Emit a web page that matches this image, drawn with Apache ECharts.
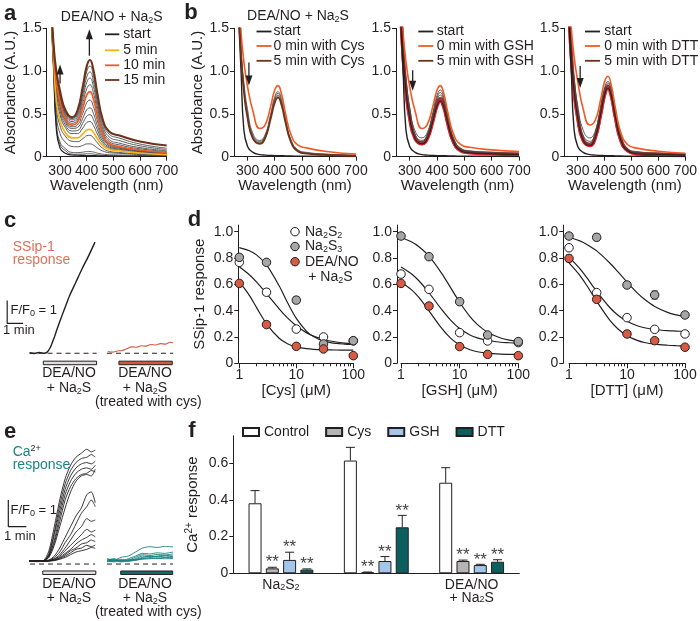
<!DOCTYPE html>
<html><head><meta charset="utf-8">
<script src="https://cdn.jsdelivr.net/npm/echarts@6.0.0/dist/echarts.min.js"></script>
<style>html,body{margin:0;padding:0;background:#fff;}#chart{width:700px;height:621px;}</style>
</head><body><div id="chart"></div>
<script>
const FONT = 'Liberation Sans';
const INK = '#231f20';
const YEL = '#f2b31b', ORG = '#f15a24', BRN = '#6e3219', RED = '#e3232b';
const GRAY_A = '#4a4a4a', GRAY_B = '#5e5e5e';

// ---------- panels a & b : absorbance spectra ----------
const wavelengths = [268,276,286,300,320,345,365,385,400,412,425,440,460,485,520,600,700];
const wlTicks = [300,400,500,600,700];
const specA = [
 [1.55,1.00,0.33,0.10,0.04,0.02,0.017,0.015,0.014,0.013,0.012,0.011,0.010,0.008,0.006,0.004,0.003],
 [1.56,1.02,0.37,0.14,0.07,0.03,0.029,0.031,0.035,0.035,0.031,0.024,0.016,0.012,0.010,0.007,0.005],
 [1.57,1.03,0.40,0.17,0.095,0.05,0.048,0.053,0.060,0.060,0.055,0.042,0.030,0.023,0.020,0.014,0.010],
 [1.60,1.08,0.50,0.27,0.17,0.12,0.116,0.131,0.149,0.150,0.135,0.102,0.067,0.047,0.040,0.025,0.015],
 [1.62,1.12,0.59,0.36,0.24,0.18,0.176,0.209,0.245,0.250,0.222,0.162,0.098,0.062,0.050,0.032,0.020],
 [1.64,1.14,0.65,0.42,0.28,0.22,0.219,0.265,0.312,0.320,0.285,0.210,0.129,0.085,0.070,0.043,0.025],
 [1.66,1.18,0.72,0.49,0.34,0.27,0.270,0.334,0.399,0.410,0.365,0.266,0.158,0.100,0.080,0.050,0.030],
 [1.67,1.20,0.765,0.535,0.37,0.30,0.305,0.390,0.473,0.490,0.435,0.314,0.182,0.113,0.090,0.057,0.035],
 [1.68,1.21,0.81,0.58,0.40,0.33,0.341,0.446,0.548,0.570,0.507,0.363,0.208,0.127,0.100,0.064,0.040],
 [1.69,1.23,0.84,0.61,0.425,0.35,0.370,0.504,0.630,0.660,0.587,0.418,0.235,0.140,0.110,0.071,0.045],
 [1.70,1.24,0.87,0.64,0.447,0.37,0.401,0.567,0.720,0.760,0.675,0.477,0.263,0.154,0.120,0.078,0.050],
 [1.71,1.25,0.90,0.666,0.469,0.39,0.430,0.620,0.793,0.840,0.748,0.530,0.295,0.177,0.140,0.092,0.060],
 [1.71,1.27,0.92,0.695,0.491,0.41,0.459,0.673,0.866,0.920,0.821,0.583,0.327,0.199,0.160,0.106,0.070],
 [1.72,1.28,0.95,0.72,0.513,0.43,0.488,0.721,0.930,0.990,0.887,0.635,0.365,0.230,0.190,0.127,0.085],
 [1.73,1.29,0.975,0.745,0.53,0.445,0.513,0.768,0.993,1.060,0.952,0.687,0.401,0.261,0.220,0.148,0.100],
 [1.73,1.30,1.00,0.767,0.546,0.46,0.537,0.814,1.055,1.130,1.017,0.738,0.438,0.292,0.250,0.178,0.130]
];
const bStart = [1.55,1.00,0.33,0.12,0.05,0.025,0.018,0.015,0.013,0.012,0.011,0.010,0.008,0.007,0.006,0.004,0.003];
const bCysOrange = [1.90,1.45,1.12,0.82,0.53,0.33,0.372,0.585,0.775,0.83,0.735,0.506,0.259,0.137,0.10,0.058,0.03];
const bCysMid = [
 [1.70,1.25,0.88,0.55,0.27,0.19,0.260,0.494,0.696,0.76,0.671,0.444,0.201,0.083,0.050,0.029,0.015],
 [1.69,1.23,0.85,0.52,0.25,0.18,0.249,0.479,0.677,0.74,0.652,0.430,0.192,0.078,0.045,0.026,0.013],
 [1.68,1.21,0.82,0.49,0.23,0.17,0.238,0.463,0.658,0.72,0.635,0.416,0.184,0.071,0.040,0.023,0.012],
 [1.67,1.20,0.80,0.47,0.22,0.16,0.229,0.454,0.647,0.71,0.625,0.411,0.181,0.071,0.040,0.023,0.011]
];
const bCysBrown = [1.66,1.18,0.78,0.45,0.21,0.15,0.218,0.439,0.628,0.69,0.608,0.398,0.173,0.065,0.035,0.020,0.010];
const bGshOrange = [1.90,1.45,1.12,0.82,0.53,0.33,0.381,0.590,0.776,0.83,0.736,0.511,0.267,0.146,0.11,0.080,0.06];
const bGshMid = [
 [1.72,1.28,0.92,0.58,0.30,0.22,0.288,0.518,0.717,0.78,0.690,0.464,0.221,0.104,0.070,0.052,0.040],
 [1.70,1.25,0.87,0.53,0.26,0.19,0.260,0.489,0.686,0.75,0.663,0.442,0.206,0.092,0.060,0.045,0.035],
 [1.69,1.22,0.84,0.50,0.24,0.175,0.244,0.466,0.658,0.72,0.636,0.423,0.195,0.086,0.055,0.040,0.030],
 [1.68,1.20,0.81,0.48,0.22,0.16,0.226,0.438,0.621,0.68,0.601,0.398,0.182,0.079,0.050,0.038,0.030]
];
const bGshBrown = [1.67,1.18,0.78,0.45,0.21,0.15,0.213,0.418,0.593,0.65,0.574,0.380,0.173,0.073,0.045,0.033,0.025];
const bDttOrange = [1.95,1.50,1.18,0.88,0.56,0.37,0.426,0.665,0.879,0.94,0.830,0.568,0.284,0.143,0.10,0.064,0.04];
const bDttMid = [
 [1.72,1.28,0.92,0.60,0.31,0.22,0.301,0.572,0.805,0.88,0.776,0.514,0.233,0.098,0.060,0.042,0.030],
 [1.70,1.25,0.87,0.53,0.25,0.18,0.268,0.545,0.782,0.86,0.759,0.498,0.220,0.087,0.050,0.035,0.025],
 [1.69,1.22,0.84,0.50,0.22,0.16,0.249,0.526,0.762,0.84,0.741,0.485,0.211,0.081,0.045,0.030,0.020],
 [1.68,1.20,0.81,0.47,0.20,0.14,0.231,0.507,0.741,0.82,0.723,0.471,0.202,0.075,0.040,0.028,0.020]
];
const bDttBrown = [1.67,1.18,0.78,0.45,0.19,0.13,0.220,0.492,0.722,0.80,0.705,0.458,0.193,0.069,0.035,0.026,0.020];
// arrows: [grid, wavelength, tail value, head value, direction]
const spectraArrows = [[0,300,0.855,1.02,'up'],[0,410,1.18,1.43,'up'],[1,305,1.10,0.89,'down'],[2,311,1.01,0.83,'down'],[3,309,1.06,0.86,'down']];

// ---------- panel c : SSip-1 traces ----------
const cTime = [0.1,0.4,0.7,1.0,1.2,1.4,1.6,1.8,2.0,2.3,2.6,3.0,3.4,3.8,4.2];
const cBlack = [0.02,-0.01,0.03,0.0,0.05,0.25,0.6,1.0,1.4,1.95,2.5,3.1,3.7,4.25,4.85];
const cRedTime = [5.0,5.3,5.6,5.9,6.2,6.5,6.8,7.1,7.4,7.7,8.0,8.3,8.6,8.9,9.1];
const cRed = [0.08,0.05,0.10,0.12,0.20,0.28,0.26,0.33,0.31,0.38,0.36,0.42,0.40,0.48,0.46];
const cBaselines = [[0.1,4.3],[4.95,9.1]];
const cStim = [[0.96,4.3],[5.7,9.04]];
const cScaleBar = [[-1.3,2.3],[-1.3,1.3],[-0.3,1.3]];

// ---------- panel d : dose responses ----------
const dConc = [1,3,10,30,100];
const dCysS2 = [0.767,0.54,0.26,0.20,0.17], dCysS3 = [0.805,0.767,0.48,0.147,0.172], dCysNO = [0.607,0.294,0.129,0.109,0.058];
const dGshS2 = [0.678,0.562,0.233,0.17,0.157], dGshS3 = [0.967,0.81,0.468,0.215,0.165], dGshNO = [0.607,0.435,0.127,0.068,0.058];
const dDttS2 = [0.878,0.537,0.347,0.258,0.223], dDttS3 = [0.967,0.957,0.595,0.519,0.367], dDttNO = [0.797,0.486,0.223,0.172,0.122];
const dCysS2Err = [0.01,0.025,0.01,0.01,0.01], dCysS3Err = [0.02,0.01,0.025,0.02,0.01], dCysNOErr = [0.01,0.01,0.01,0.01,0.01];
const dGshS2Err = [0.02,0.01,0.01,0.01,0.01], dGshS3Err = [0.01,0.01,0.01,0.01,0.01], dGshNOErr = [0.01,0.02,0.01,0.01,0.01];
const dDttS2Err = [0.01,0.01,0.01,0.01,0.01], dDttS3Err = [0.01,0.025,0.01,0.03,0.01], dDttNOErr = [0.025,0.01,0.01,0.01,0.01];
const fitConc = [1,1.5,2,3,5,7,10,15,20,30,50,70,100];
const fitCysS3 = [0.879,0.855,0.824,0.748,0.589,0.462,0.341,0.245,0.203,0.169,0.151,0.146,0.143];
const fitCysS2 = [0.734,0.673,0.619,0.53,0.414,0.345,0.285,0.233,0.207,0.181,0.162,0.154,0.149];
const fitCysNO = [0.62,0.516,0.425,0.30,0.19,0.149,0.125,0.111,0.106,0.103,0.101,0.1005,0.10];
const fitGshS3 = [0.956,0.923,0.887,0.814,0.68,0.575,0.464,0.355,0.296,0.236,0.192,0.176,0.166];
const fitGshS2 = [0.731,0.68,0.629,0.536,0.405,0.328,0.264,0.215,0.193,0.173,0.160,0.156,0.152];
const fitGshNO = [0.616,0.56,0.502,0.399,0.263,0.191,0.139,0.103,0.088,0.077,0.070,0.068,0.066];
const fitDttS3 = [0.958,0.932,0.905,0.854,0.764,0.694,0.617,0.535,0.486,0.432,0.387,0.368,0.354];
const fitDttS2 = [0.807,0.725,0.654,0.547,0.426,0.365,0.319,0.285,0.27,0.257,0.248,0.245,0.242];
const fitDttNO = [0.763,0.674,0.595,0.471,0.33,0.261,0.21,0.174,0.158,0.145,0.137,0.134,0.132];
const dTicks = [0,0.2,0.4,0.6,0.8,1.0];
const dMinorTicks = [2,3,4,5,6,7,8,9,20,30,40,50,60,70,80,90];

// ---------- panel e : Ca2+ traces ----------
const eTime = [0,0.4,0.8,1.1,1.4,1.7,2.0,2.3,2.6,2.9,3.2,3.45,3.67];
const eTraces = [
 [0.12,0.10,0.13,0.50,1.40,2.40,3.20,3.70,4.00,4.15,4.30,4.20,4.27],
 [0.10,0.12,0.10,0.40,1.20,2.20,3.00,3.50,3.80,3.95,4.00,4.10,4.00],
 [0.11,0.09,0.12,0.35,1.10,2.00,2.80,3.30,3.60,3.75,3.80,3.75,3.85],
 [0.10,0.11,0.10,0.30,0.90,1.80,2.60,3.10,3.40,3.55,3.60,3.55,3.70],
 [0.12,0.10,0.11,0.30,0.80,1.60,2.40,2.90,3.20,3.35,3.40,3.50,3.45],
 [0.10,0.12,0.10,0.25,0.70,1.40,2.10,2.70,3.10,3.30,3.35,3.30,3.55],
 [0.11,0.10,0.12,0.15,0.30,0.60,1.00,1.40,1.80,2.10,2.60,2.70,2.30],
 [0.10,0.11,0.10,0.14,0.25,0.45,0.80,1.10,1.50,1.90,2.15,2.40,2.15],
 [0.12,0.10,0.11,0.13,0.20,0.35,0.60,0.90,1.20,1.40,1.70,1.60,1.65],
 [0.10,0.11,0.12,0.13,0.18,0.30,0.50,0.70,0.90,1.10,1.30,1.20,1.27],
 [0.11,0.10,0.11,0.12,0.16,0.25,0.40,0.55,0.75,0.90,1.00,1.10,1.02],
 [0.10,0.12,0.10,0.12,0.15,0.22,0.35,0.50,0.60,0.75,0.80,0.90,0.84],
 [0.11,0.10,0.12,0.12,0.14,0.20,0.30,0.42,0.55,0.60,0.70,0.65,0.71],
 [0.10,0.11,0.10,0.11,0.13,0.18,0.25,0.35,0.45,0.50,0.55,0.62,0.59]
];
const tealTime = [4.33,4.7,5.1,5.5,5.9,6.3,6.7,7.1,7.5,7.98];
const tealTraces = [
 [0.20,0.15,0.25,0.30,0.45,0.60,0.65,0.62,0.66,0.64],
 [0.15,0.20,0.12,0.20,0.30,0.40,0.38,0.42,0.40,0.45],
 [0.10,0.15,0.10,0.15,0.25,0.35,0.32,0.36,0.34,0.38],
 [0.20,0.10,0.18,0.12,0.20,0.30,0.28,0.30,0.33,0.30],
 [0.12,0.18,0.10,0.14,0.18,0.25,0.30,0.26,0.30,0.28],
 [0.08,0.12,0.15,0.10,0.15,0.22,0.24,0.28,0.25,0.25],
 [0.15,0.08,0.12,0.16,0.14,0.20,0.22,0.20,0.24,0.22],
 [0.10,0.14,0.08,0.12,0.16,0.18,0.20,0.22,0.20,0.20]
];
const eBaselines = [[0.05,3.66],[4.32,7.98]];
const eStim = [[0.76,3.70],[5.08,7.96]];
const eScaleBar = [[-1.15,2.4],[-1.15,1.4],[-0.15,1.4]];

// ---------- panel f : Ca2+ bars ----------
const fGroups = ['Na{s|2}S{s|2}', 'Na{s|2}S{s|3}', 'DEA/NO\n+ Na{s|2}S'];
const fNames = ['Control','Cys','GSH','DTT'];
const fControl = [0.382,0.615,0.494], fControlErr = [0.069,0.072,0.082];
const fCys = [0.027,0.005,0.067], fCysErr = [0.006,0.002,0.005];
const fGsh = [0.073,0.067,0.045], fGshErr = [0.042,0.024,0.004];
const fDtt = [0.020,0.251,0.063], fDttErr = [0.004,0.065,0.011];
const fTicks = [0,0.2,0.4,0.6];

// ================= build =================
function merge(a, b) {
  const o = Object.assign({}, a);
  for (const k in b) {
    if (b[k] && typeof b[k] === 'object' && !Array.isArray(b[k]) && a[k] && typeof a[k] === 'object') o[k] = merge(a[k], b[k]);
    else o[k] = b[k];
  }
  return o;
}
const AX = {
  axisLine: {show: true, onZero: false, lineStyle: {color: INK, width: 1}},
  axisTick: {show: true, length: 4, inside: false, lineStyle: {color: INK, width: 1}},
  axisLabel: {color: INK, fontSize: 14, fontFamily: FONT, margin: 5},
  splitLine: {show: false},
  nameTextStyle: {color: INK, fontSize: 15, fontFamily: FONT}
};
const ax = o => merge(AX, o);
const fmt1 = v => (v === 0 ? '0' : v.toFixed(1));

const grids = [
  {left: 46.7, top: 28.3, width: 120, height: 128.4},
  {left: 234, top: 28.3, width: 122, height: 128.4},
  {left: 396, top: 28.3, width: 123, height: 128.4},
  {left: 564.3, top: 28.3, width: 122.7, height: 128.4},
  {left: 4, top: 241, width: 174, height: 126},
  {left: 239.3, top: 225.1, width: 114, height: 138.2},
  {left: 401, top: 225.1, width: 117.3, height: 138.2},
  {left: 569, top: 225.1, width: 116, height: 138.2},
  {left: 2, top: 445.2, width: 175, height: 132.2},
  {left: 233.3, top: 435.8, width: 286, height: 137.5}
];

const xAxes = [];
const yAxes = [];
for (let g = 0; g < 4; g++) {
  xAxes.push(ax({type: 'value', gridIndex: g, min: 250, max: 700, name: 'Wavelength (nm)', nameLocation: 'middle', nameGap: 21,
    axisLabel: {customValues: wlTicks, margin: 7}, axisTick: {customValues: wlTicks}}));
  yAxes.push(ax({type: 'value', gridIndex: g, min: 0, max: 1.5, interval: 0.5,
    name: g < 2 ? 'Absorbance (A.U.)' : '', nameLocation: 'middle', nameGap: g === 0 ? 25 : 26,
    axisLabel: {formatter: fmt1}}));
}
xAxes.push({type: 'value', gridIndex: 4, min: -1.5, max: 9.4, show: false});
yAxes.push({type: 'value', gridIndex: 4, min: -0.6, max: 4.9, show: false});
const dNames = ['[Cys] (μM)', '[GSH] (μM)', '[DTT] (μM)'];
const dOffsets = [1, 4, 5.7];
const dXMajor = [];
for (let i = 0; i < 3; i++) {
  const g = 5 + i;
  dXMajor.push(xAxes.length);
  xAxes.push(ax({type: 'log', gridIndex: g, min: 1, max: 100, logBase: 10, name: dNames[i], nameLocation: 'middle', nameGap: 20,
    axisTick: {length: 5}, axisLabel: {margin: 5}}));
  xAxes.push(ax({type: 'log', gridIndex: g, min: 1, max: 100, logBase: 10, position: 'bottom',
    axisLine: {show: false}, axisLabel: {show: false}, axisTick: {length: 3, customValues: dMinorTicks}}));
  yAxes.push(ax({type: 'value', gridIndex: g, min: 0, max: 1.05, offset: dOffsets[i],
    name: i === 0 ? 'SSip-1 response' : '', nameLocation: 'middle', nameGap: 31,
    axisLabel: {formatter: fmt1, customValues: dTicks}, axisTick: {customValues: dTicks}}));
}
const eX = xAxes.length;
xAxes.push({type: 'value', gridIndex: 8, min: -1.5, max: 8.2, show: false});
yAxes.push({type: 'value', gridIndex: 8, min: -0.5, max: 4.45, show: false});
const fX = xAxes.length;
xAxes.push(ax({type: 'category', gridIndex: 9, data: fGroups, axisTick: {show: false},
  axisLabel: {margin: 6, lineHeight: 12.5, rich: {s: {fontSize: 9, lineHeight: 8, verticalAlign: 'bottom', fontFamily: FONT, color: INK}}}}));
yAxes.push(ax({type: 'value', gridIndex: 9, min: 0, max: 0.75,
  name: '{n|Ca}{p|2+}{n| response}', nameLocation: 'middle', nameGap: 32,
  nameTextStyle: {rich: {n: {fontSize: 15, fontFamily: FONT, color: INK, lineHeight: 17}, p: {fontSize: 10, lineHeight: 10, verticalAlign: 'top', fontFamily: FONT, color: INK}}},
  axisLabel: {formatter: fmt1, customValues: fTicks}, axisTick: {customValues: fTicks}}));

const series = [];
function spec(gi, vals, color, width, z) {
  series.push({type: 'line', xAxisIndex: gi, yAxisIndex: gi, data: wavelengths.map((w, i) => [w, vals[i]]),
    symbol: 'none', showSymbol: false, smooth: 0.5, clip: true, silent: true, z: z,
    lineStyle: {color: color, width: width}});
}
// panel a
specA.forEach((v, k) => { if (![0, 5, 10, 15].includes(k)) spec(0, v, GRAY_A, 0.9, 2); });
spec(0, specA[0], INK, 1.2, 3);
spec(0, specA[5], YEL, 1.7, 4);
spec(0, specA[10], ORG, 1.7, 4);
spec(0, specA[15], BRN, 2.1, 4);
// panels b
const bSets = [[bCysOrange, bCysMid, bCysBrown, false], [bGshOrange, bGshMid, bGshBrown, true], [bDttOrange, bDttMid, bDttBrown, true]];
bSets.forEach((set, i) => {
  const gi = i + 1, o = set[0], mids = set[1], br = set[2], red = set[3];
  if (red) { spec(gi, mids[3], RED, 3.4, 2); spec(gi, br, RED, 3.4, 2); }
  mids.forEach(m => spec(gi, m, red ? '#4a4a4a' : GRAY_B, 0.9, 3));
  spec(gi, bStart, INK, 1.4, 3);
  spec(gi, o, ORG, 1.6, 4);
  spec(gi, br, red ? '#3a1d12' : BRN, red ? 1.1 : 1.8, 4);
});
// arrows
spectraArrows.forEach(a => {
  series.push({type: 'line', xAxisIndex: a[0], yAxisIndex: a[0], silent: true, z: 6, showSymbol: true,
    lineStyle: {color: INK, width: 1.3}, itemStyle: {color: INK},
    data: [{value: [a[1], a[2]], symbol: 'none'}, {value: [a[1], a[3]], symbol: 'triangle', symbolSize: [7, 10], symbolRotate: a[4] === 'up' ? 0 : 180}]});
});

// traces helpers
function trace(xi, t, v, color, width, z, dash) {
  series.push({type: 'line', xAxisIndex: xi, yAxisIndex: xi === eX ? 8 : 4, data: t.map((x, i) => [x, v[i]]),
    symbol: 'none', showSymbol: false, smooth: dash ? false : 0.25, silent: true, z: z || 3, clip: false,
    lineStyle: {color: color, width: width, type: dash ? [5, 4] : 'solid'}});
}
function stim(xi, yi, bars, fills, y0, y1) {
  series.push({type: 'custom', xAxisIndex: xi, yAxisIndex: yi, silent: true, z: 4, clip: false,
    data: bars.map((b, i) => [b[0], b[1], i]), encode: {x: [0, 1]},
    renderItem: (p, api) => {
      const a = api.coord([api.value(0), y0]), b = api.coord([api.value(1), y1]);
      return {type: 'rect', shape: {x: a[0], y: a[1], width: b[0] - a[0], height: b[1] - a[1]},
        style: {fill: fills[api.value(2)], stroke: INK, lineWidth: 1}};
    }});
}
// panel c
trace(4, cTime, cBlack, INK, 1.4, 4);
trace(4, cRedTime, cRed, '#d9573f', 1.1, 4);
cBaselines.forEach(s => trace(4, [s[0], s[1]], [0, 0], INK, 1, 3, true));
series.push({type: 'line', xAxisIndex: 4, yAxisIndex: 4, data: cScaleBar, symbol: 'none', silent: true, clip: false, lineStyle: {color: INK, width: 1.2}});
stim(4, 4, cStim, ['#dcdcdc', '#cf5a42'], -0.345, -0.5);
// panel e
eTraces.forEach(v => trace(eX, eTime, v, INK, 0.9, 4));
tealTraces.forEach(v => trace(eX, tealTime, v, '#1b7f7f', 0.9, 4));
eBaselines.forEach(s => trace(eX, [s[0], s[1]], [0, 0], INK, 1, 3, true));
series.push({type: 'line', xAxisIndex: eX, yAxisIndex: 8, data: eScaleBar, symbol: 'none', silent: true, clip: false, lineStyle: {color: INK, width: 1.2}});
stim(eX, 8, eStim, ['#e4e4e4', '#166a6a'], -0.26, -0.39);

// panel d
const dPanels = [
  [[dCysS2, dCysS2Err, fitCysS2], [dCysS3, dCysS3Err, fitCysS3], [dCysNO, dCysNOErr, fitCysNO]],
  [[dGshS2, dGshS2Err, fitGshS2], [dGshS3, dGshS3Err, fitGshS3], [dGshNO, dGshNOErr, fitGshNO]],
  [[dDttS2, dDttS2Err, fitDttS2], [dDttS3, dDttS3Err, fitDttS3], [dDttNO, dDttNOErr, fitDttNO]]
];
const dFills = ['#ffffff', '#a6a6a6', '#d85a43'];
dPanels.forEach((panel, i) => {
  const xi = dXMajor[i], yi = 5 + i;
  panel.forEach(s => {
    series.push({type: 'line', xAxisIndex: xi, yAxisIndex: yi, data: fitConc.map((c, k) => [c, s[2][k]]),
      symbol: 'none', smooth: 0.3, silent: true, z: 3, lineStyle: {color: INK, width: 1.2}});
  });
  panel.forEach(s => {
    series.push({type: 'custom', xAxisIndex: xi, yAxisIndex: yi, silent: true, z: 4,
      data: dConc.map((c, k) => [c, s[0][k], s[1][k]]), encode: {x: 0, y: 1},
      renderItem: (p, api) => {
        const lo = api.coord([api.value(0), api.value(1) - api.value(2)]);
        const hi = api.coord([api.value(0), api.value(1) + api.value(2)]);
        const st = {stroke: INK, lineWidth: 1};
        return {type: 'group', children: [
          {type: 'line', shape: {x1: lo[0], y1: lo[1], x2: hi[0], y2: hi[1]}, style: st},
          {type: 'line', shape: {x1: lo[0] - 3, y1: lo[1], x2: lo[0] + 3, y2: lo[1]}, style: st},
          {type: 'line', shape: {x1: hi[0] - 3, y1: hi[1], x2: hi[0] + 3, y2: hi[1]}, style: st}]};
      }});
  });
  panel.forEach((s, j) => {
    series.push({type: 'scatter', xAxisIndex: xi, yAxisIndex: yi, data: dConc.map((c, k) => [c, s[0][k]]),
      symbol: 'circle', symbolSize: 8.5, silent: true, z: 5 + j,
      itemStyle: {color: dFills[j], borderColor: INK, borderWidth: 1, opacity: 1}});
  });
});

// panel f
const fVals = [fControl, fCys, fGsh, fDtt];
const fErrs = [fControlErr, fCysErr, fGshErr, fDttErr];
const fFills = ['#ffffff', '#b5b5b5', '#a3c6ea', '#0c5f5f'];
const BAR_W = 13, BAR_GAP = 0.33;
fNames.forEach((n, s) => {
  series.push({type: 'bar', name: n, xAxisIndex: fX, yAxisIndex: 9, data: fVals[s], barWidth: BAR_W, barGap: (BAR_GAP * 100) + '%',
    silent: true, z: 3, itemStyle: {color: fFills[s], borderColor: INK, borderWidth: 1}});
});
const fErrData = [];
fVals.forEach((vals, s) => vals.forEach((v, c) => fErrData.push([c, v, s, fErrs[s][c], s > 0 ? 1 : 0])));
series.push({type: 'custom', xAxisIndex: fX, yAxisIndex: 9, silent: true, z: 5, clip: false,
  data: fErrData, encode: {x: 0, y: 1},
  renderItem: (p, api) => {
    const c = api.value(0), v = api.value(1), s = api.value(2), e = api.value(3), star = api.value(4);
    const gap = BAR_W * BAR_GAP, total = 4 * BAR_W + 3 * gap;
    const x = api.coord([c, 0])[0] - total / 2 + BAR_W / 2 + s * (BAR_W + gap);
    const yTop = api.coord([c, v])[1], yErr = api.coord([c, v + e])[1];
    const st = {stroke: INK, lineWidth: 1};
    const ch = [
      {type: 'line', shape: {x1: x, y1: yTop, x2: x, y2: yErr}, style: st},
      {type: 'line', shape: {x1: x - 4.5, y1: yErr, x2: x + 4.5, y2: yErr}, style: st}];
    if (star) ch.push({type: 'text', x: x, y: yErr + 4, style: {text: '**', fill: '#444', fontSize: 17, fontFamily: FONT, align: 'center', verticalAlign: 'bottom'}});
    return {type: 'group', children: ch};
  }});

// ---------- graphic annotations (text, legends) ----------
const G = [];
const RT = {
  s: {fontSize: 9, lineHeight: 9, verticalAlign: 'bottom', fontFamily: FONT},
  p: {fontSize: 9, lineHeight: 9, verticalAlign: 'top', fontFamily: FONT}
};
function txt(x, y, text, opt) {
  G.push({type: 'text', x: x, y: y, silent: true, z: 100,
    style: Object.assign({text: text, fill: INK, fontSize: 14, fontFamily: FONT, align: 'left', verticalAlign: 'middle', rich: RT, lineHeight: 16}, opt || {})});
}
function seg(x1, y1, x2, y2, color, w) {
  G.push({type: 'line', silent: true, z: 100, shape: {x1: x1, y1: y1, x2: x2, y2: y2}, style: {stroke: color, lineWidth: w || 1}});
}
// panel letters
[['a', 10, 14], ['b', 191, 13], ['c', 10, 221], ['d', 194.5, 220], ['e', 10, 432], ['f', 192, 431]].forEach(l =>
  txt(l[1], l[2], l[0], {fontSize: 22, fontWeight: 'bold', align: 'center'}));
// titles
txt(111.7, 17, 'DEA/NO + Na{s|2}S', {align: 'center'});
txt(298, 16, 'DEA/NO + Na{s|2}S', {align: 'center'});
// legend a
[['start', INK, 34.3], ['5 min', YEL, 50.3], ['10 min', ORG, 65.3], ['15 min', BRN, 80]].forEach(r => {
  seg(105, r[2], 119.3, r[2], r[1], 1.8); txt(123.3, r[2], r[0]);
});
// legends b
[['Cys', 256.5, 273.5], ['GSH', 418.3, 436.7], ['DTT', 585, 604.3]].forEach(b => {
  [['start', INK, 31.5], ['0 min with ' + b[0], ORG, 46], ['5 min with ' + b[0], BRN, 60.8]].forEach(r => {
    seg(b[1], r[2], b[1] + 15, r[2], r[1], 1.8); txt(b[2], r[2], r[0]);
  });
});
// panel c texts
txt(12.7, 246.7, 'SSip-1', {fill: '#e0705a'});
txt(12.7, 260, 'response', {fill: '#e0705a'});
txt(10.5, 310, 'F/F{s|0} = 1', {fontSize: 13});
txt(3, 330, '1 min', {fontSize: 13});
txt(69, 373.3, 'DEA/NO', {align: 'center'});
txt(69, 388.3, '+ Na{s|2}S', {align: 'center'});
txt(145, 373.3, 'DEA/NO', {align: 'center'});
txt(145, 388.3, '+ Na{s|2}S', {align: 'center'});
txt(148.3, 402, '(treated with cys)', {align: 'center'});
// panel e texts
txt(12.7, 451.7, '{c|Ca}{cp|2+}', {rich: {c: {fontSize: 14, fontFamily: FONT, fill: '#1b8585', color: '#1b8585'}, cp: {fontSize: 9, lineHeight: 9, verticalAlign: 'top', fontFamily: FONT, color: '#1b8585'}}});
txt(12.7, 465, 'response', {fill: '#1b8585'});
txt(10.5, 510, 'F/F{s|0} = 1', {fontSize: 13});
txt(4, 536, '1 min', {fontSize: 13});
txt(69, 584, 'DEA/NO', {align: 'center'});
txt(69, 598.3, '+ Na{s|2}S', {align: 'center'});
txt(145, 584, 'DEA/NO', {align: 'center'});
txt(145, 598.3, '+ Na{s|2}S', {align: 'center'});
txt(148.3, 612, '(treated with cys)', {align: 'center'});
// legend d
[['Na{s|2}S{s|2}', dFills[0], 231.7], ['Na{s|2}S{s|3}', dFills[1], 246.5], ['DEA/NO', dFills[2], 261.7]].forEach(r => {
  seg(290.5, r[2], 299.5, r[2], INK, 1);
  G.push({type: 'circle', silent: true, z: 101, shape: {cx: 295, cy: r[2], r: 4.2}, style: {fill: r[1], stroke: INK, lineWidth: 1}});
  txt(305, r[2], r[0]);
});
txt(308.3, 277.5, '+ Na{s|2}S');

const option = {
  animation: false,
  backgroundColor: '#ffffff',
  textStyle: {fontFamily: FONT},
  grid: grids,
  xAxis: xAxes,
  yAxis: yAxes,
  legend: {show: true, data: fNames, left: 242, top: 425, itemWidth: 16, itemHeight: 8, itemGap: 16, icon: 'rect',
    padding: 0, selectedMode: false, textStyle: {fontSize: 14, fontFamily: FONT, color: INK}},
  series: series,
  graphic: {elements: G}
};
const chart = echarts.init(document.getElementById('chart'), null, {renderer: 'canvas'});
chart.setOption(option);
</script></body></html>
